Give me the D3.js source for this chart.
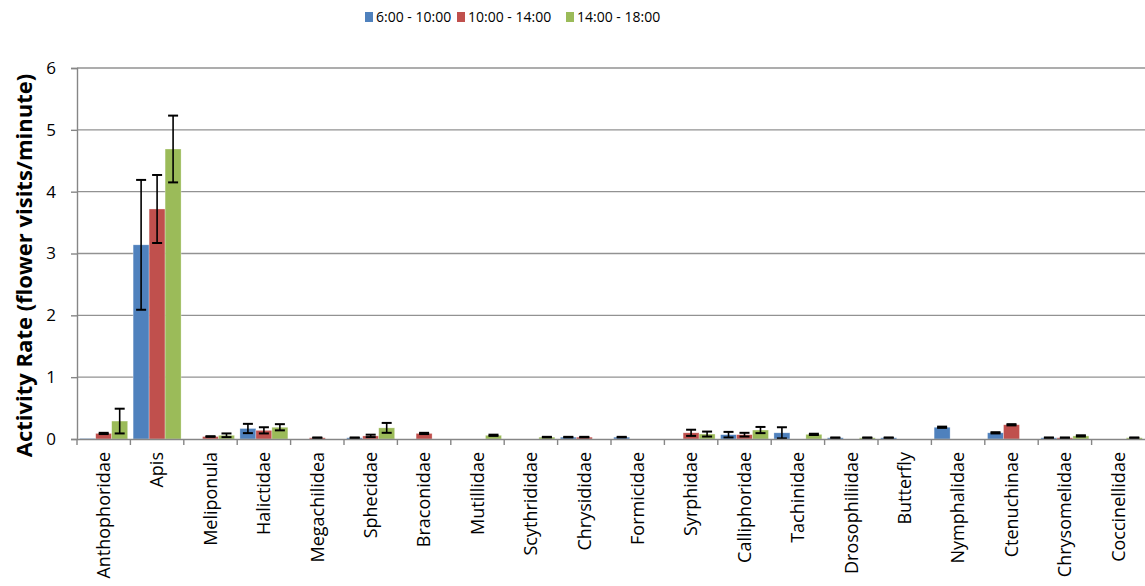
<!DOCTYPE html>
<html>
<head>
<meta charset="utf-8">
<script src="https://cdn.jsdelivr.net/npm/d3@7"></script>
<style>
  body { margin: 0; background: #fff; }
  svg { display: block; }
</style>
</head>
<body>
<svg id="chart"></svg>
<script>
const categories = ["Anthophoridae", "Apis", "Meliponula", "Halictidae", "Megachilidea", "Sphecidae",
  "Braconidae", "Mutillidae", "Scythrididae", "Chrysididae", "Formicidae", "Syrphidae", "Calliphoridae",
  "Tachinidae", "Drosophiliidae", "Butterfly", "Nymphalidae", "Ctenuchinae", "Chrysomelidae", "Coccinellidae"];
const seriesNames = ["6:00 - 10:00", "10:00 - 14:00", "14:00 - 18:00"];
const seriesColors = ["#4F81BD", "#C0504D", "#9BBB59"];

const morning = [0.01, 3.14, 0, 0.17, 0, 0.02, 0, 0, 0, 0.03, 0.03, 0, 0.07, 0.10, 0.02, 0.02, 0.19, 0.10, 0.02, 0];
const morningErr = [0, 1.05, 0, 0.075, 0, 0.005, 0, 0, 0, 0.005, 0.005, 0, 0.045, 0.09, 0.005, 0.005, 0.01, 0.01, 0.005, 0];
const midday = [0.09, 3.72, 0.04, 0.14, 0.02, 0.05, 0.09, 0, 0, 0.03, 0, 0.10, 0.07, 0, 0, 0, 0, 0.23, 0.02, 0];
const middayErr = [0.01, 0.55, 0.005, 0.05, 0.005, 0.02, 0.01, 0, 0, 0.005, 0, 0.05, 0.03, 0, 0, 0, 0, 0.01, 0.005, 0];
const afternoon = [0.29, 4.69, 0.06, 0.19, 0, 0.18, 0, 0.06, 0.03, 0, 0, 0.08, 0.145, 0.075, 0.02, 0, 0, 0, 0.05, 0.02];
const afternoonErr = [0.2, 0.54, 0.03, 0.05, 0, 0.08, 0, 0.01, 0.005, 0, 0, 0.04, 0.05, 0.01, 0.005, 0, 0, 0, 0.01, 0.005];

const yTicks = [0, 1, 2, 3, 4, 5, 6];

const values = [morning, midday, afternoon];
const errors = [morningErr, middayErr, afternoonErr];

const width = 1145, height = 586;
const margin = { top: 68, right: 0, bottom: 147, left: 77 };
const font = "'Open Sans', 'Noto Sans', sans-serif";

const svg = d3.select("#chart").attr("width", width).attr("height", height);

const x = d3.scaleBand().domain(categories).range([margin.left, width - margin.right]).padding(0);
const x1 = d3.scaleBand().domain(seriesNames).range([0, x.bandwidth()]).paddingInner(0).paddingOuter(0.17);
const y = d3.scaleLinear().domain([0, 6]).range([height - margin.bottom, margin.top]);

// gridlines
svg.append("g")
  .selectAll("line")
  .data(yTicks.filter((t) => t > 0))
  .join("line")
  .attr("x1", margin.left)
  .attr("x2", width - margin.right)
  .attr("y1", (d) => y(d))
  .attr("y2", (d) => y(d))
  .attr("stroke", "#929292")
  .attr("stroke-width", 1.4);

// flat rows for bars
const rows = [];
categories.forEach((c, i) => {
  seriesNames.forEach((s, j) => {
    rows.push({ cat: c, series: s, color: seriesColors[j], value: values[j][i], err: errors[j][i] });
  });
});

svg.append("g")
  .selectAll("rect")
  .data(rows.filter((d) => d.value > 0))
  .join("rect")
  .attr("x", (d) => x(d.cat) + x1(d.series))
  .attr("y", (d) => y(d.value))
  .attr("width", x1.bandwidth())
  .attr("height", (d) => y(0) - y(d.value))
  .attr("fill", (d) => d.color)
  .attr("stroke", "#fff")
  .attr("stroke-opacity", 0.5)
  .attr("stroke-width", 0.6);

// error bars
const eb = svg.append("g")
  .selectAll("g")
  .data(rows.filter((d) => d.value > 0 && d.err > 0))
  .join("g")
  .attr("stroke", "#000")
  .attr("stroke-width", 1.6);

const cx = (d) => x(d.cat) + x1(d.series) + x1.bandwidth() / 2;
eb.append("line")
  .attr("x1", cx).attr("x2", cx)
  .attr("y1", (d) => y(d.value + d.err))
  .attr("y2", (d) => y(Math.max(0, d.value - d.err)));
eb.append("line")
  .attr("x1", (d) => cx(d) - 5).attr("x2", (d) => cx(d) + 5)
  .attr("y1", (d) => y(d.value + d.err)).attr("y2", (d) => y(d.value + d.err))
  .attr("stroke-width", 2);
eb.append("line")
  .attr("x1", (d) => cx(d) - 5).attr("x2", (d) => cx(d) + 5)
  .attr("y1", (d) => y(Math.max(0, d.value - d.err))).attr("y2", (d) => y(Math.max(0, d.value - d.err)))
  .attr("stroke-width", 2);

// y axis
const yAxis = svg.append("g")
  .attr("transform", `translate(${margin.left},0)`)
  .call(d3.axisLeft(y).tickValues(yTicks).tickSize(6).tickPadding(14).tickFormat(d3.format("d")));
yAxis.select(".domain").attr("stroke", "#868686").attr("stroke-width", 1.4);
yAxis.selectAll(".tick line").attr("stroke", "#868686").attr("stroke-width", 1.4);
yAxis.selectAll(".tick text")
  .attr("x", -21)
  .attr("text-anchor", "end")
  .style("font-family", font)
  .style("font-size", "17px")
  .attr("fill", "#000");

// x axis
const xAxis = svg.append("g")
  .attr("transform", `translate(0,${y(0)})`)
  .call(d3.axisBottom(x).tickSize(0).tickPadding(0));
xAxis.select(".domain").attr("stroke", "#868686").attr("stroke-width", 1.4);
xAxis.selectAll(".tick text")
  .attr("transform", "rotate(-90)")
  .attr("text-anchor", "end")
  .attr("x", -13)
  .attr("y", 0)
  .attr("dy", "0.35em")
  .style("font-family", font)
  .style("font-size", "18px")
  .attr("fill", "#000");

// x ticks at band boundaries
svg.append("g")
  .selectAll("line")
  .data(categories)
  .join("line")
  .attr("x1", (d) => x(d)).attr("x2", (d) => x(d))
  .attr("y1", y(0)).attr("y2", y(0) + 6)
  .attr("stroke", "#868686")
  .attr("stroke-width", 1.4);

// y title
svg.append("text")
  .attr("transform", `translate(32,${(y(0) + y(6)) / 2 + 12}) rotate(-90)`)
  .attr("text-anchor", "middle")
  .style("font-family", font)
  .style("font-size", "22px")
  .style("font-weight", "bold")
  .text("Activity Rate (flower visits/minute)");

// legend
const legendX = [365, 457, 566];
const legend = svg.append("g")
  .selectAll("g")
  .data(seriesNames)
  .join("g")
  .attr("transform", (d, i) => `translate(${legendX[i]},12)`);
legend.append("rect")
  .attr("width", 8).attr("height", 10)
  .attr("fill", (d, i) => seriesColors[i]);
legend.append("text")
  .attr("x", 11).attr("y", 5).attr("dy", "0.35em")
  .style("font-family", "'Liberation Sans Narrow', 'Open Sans', sans-serif")
  .style("font-size", "14px")
  .text((d) => d);
</script>
</body>
</html>
